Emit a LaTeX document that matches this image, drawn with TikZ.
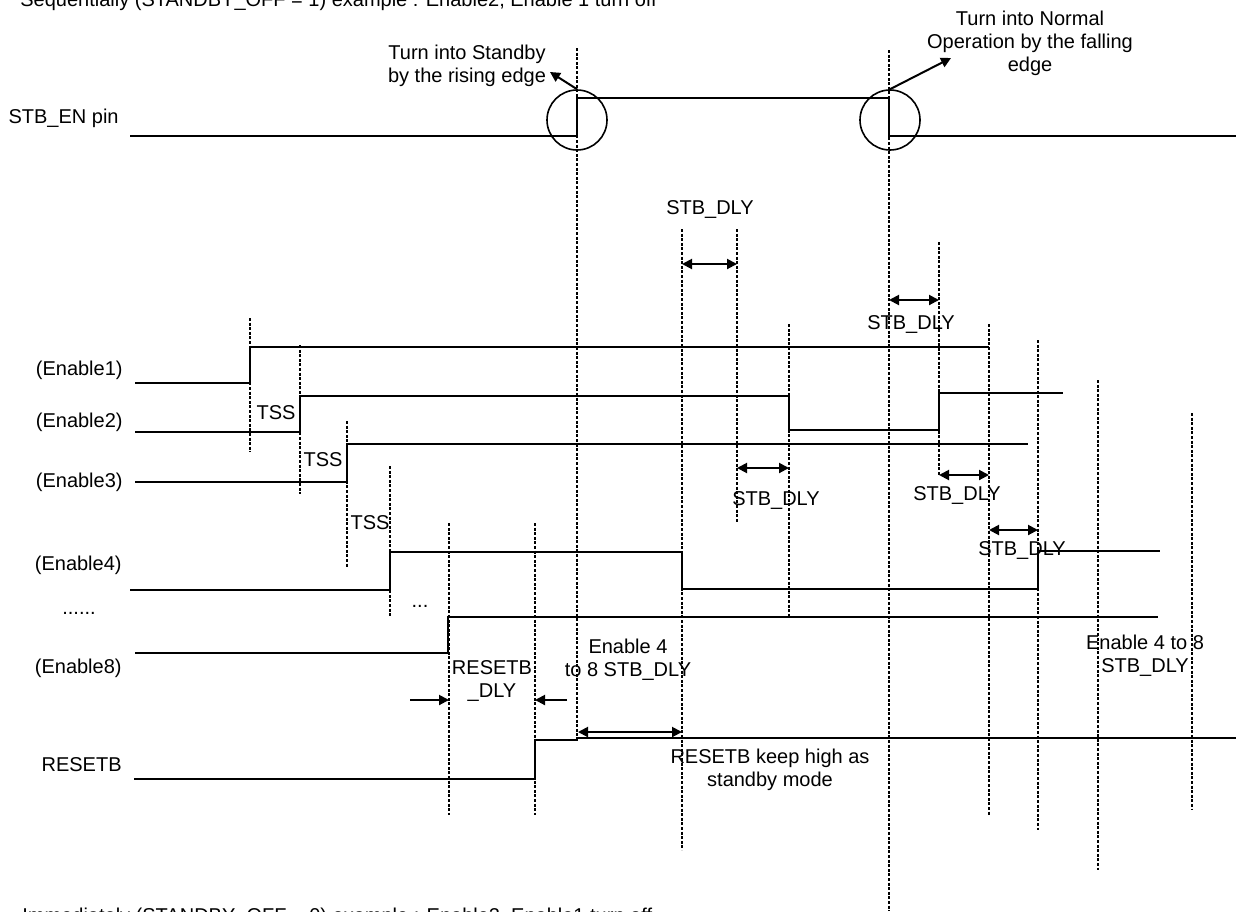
\documentclass[tikz,border=0pt]{standalone}
\usepackage{fontspec}
\setmainfont{Liberation Sans}
\usetikzlibrary{arrows.meta}
\begin{document}
\begin{tikzpicture}[x=0.5pt,y=-0.5pt,
  sig/.style={line width=1pt},
  dl/.style={line width=1.4pt, dash pattern=on 1.5pt off 0.8pt},
  txt/.style={font=\fontsize{10}{11.5}\selectfont, inner sep=0pt, align=center},
  lbl/.style={txt, anchor=east},
  arr/.style={line width=1pt, -{Triangle[length=5pt,width=5pt]}},
  darr/.style={line width=1pt, {Triangle[length=5pt,width=5pt]}-{Triangle[length=5pt,width=5pt]}},
  ring/.style={draw, circle, minimum size=30pt, line width=0.8pt, inner sep=0pt}]
\clip (0,0) rectangle (1236,911);
\fill[white] (0,0) rectangle (1236,911);

% dashed time markers
\foreach \n/\x/\a/\b in {d1/250/318/452, d2/300/345/494, d3/347/421/567, d4/390/466/617,
  d5/449/523/815, d6/535/523/815, d7/577/48/740, d8/682/229/850, d9/737/229/523,
  d10/789/324/617, d11/889/50/911, d12/939/242/475, d13/989/324/815, d14/1038/340/830,
  d15/1098/380/870, d16/1192/413/810}{
  \coordinate (\n t) at (\x,\a);
  \coordinate (\n b) at (\x,\b);
  \draw[dl] (\n t) -- (\n b);
}

% waveforms
\draw[sig] (130,136) -- (577,136) -- (577,98) -- (889,98) -- (889,136) -- (1236,136);
\draw[sig] (135,383) -- (250,383) -- (250,347) -- (989,347);
\draw[sig] (135,432) -- (300,432) -- (300,396) -- (789,396) -- (789,430) -- (939,430) -- (939,393) -- (1063,393);
\draw[sig] (135,482) -- (347,482) -- (347,444) -- (1028,444);
\draw[sig] (130,590) -- (390,590) -- (390,552) -- (682,552) -- (682,589) -- (1038,589) -- (1038,551) -- (1160,551);
\draw[sig] (135,653) -- (448,653) -- (448,617) -- (1158,617);
\draw[sig] (134,779) -- (535,779) -- (535,740) -- (577,740) -- (577,738) -- (1236,738);

% circles and callouts
\node[ring] (c1) at (577,120) {};
\node[ring] (c2) at (890,120) {};
\node[txt] (tstb) at (467,66) {Turn into Standby\\by the rising edge};
\node[txt] (tnorm) at (1030,43) {Turn into Normal\\Operation by the falling\\edge};
\coordinate (h1) at (550,72);
\coordinate (h2) at (951,58);
\draw[arr] (c1.north) -- (h1);
\draw[arr] (c2.north) -- (h2);

% signal labels
\node[lbl] (lstb) at (119,118) {STB\_EN pin};
\node[lbl] (le1) at (123,370) {(Enable1)};
\node[lbl] (le2) at (123,422) {(Enable2)};
\node[lbl] (le3) at (123,482) {(Enable3)};
\node[lbl] (le4) at (122,565) {(Enable4)};
\node[txt, anchor=base] (ldots) at (79,614) {......};
\node[lbl] (le8) at (122,668) {(Enable8)};
\node[lbl] (lrst) at (122,765) {RESETB};
\node[txt, anchor=base] (mdots) at (420,607) {...};

% TSS
\node[txt] (tss1) at (276,413) {TSS};
\node[txt] (tss2) at (323,460) {TSS};
\node[txt] (tss3) at (370,523) {TSS};

% STB_DLY arrows
\coordinate (a1l) at (682,264); \coordinate (a1r) at (737,264);
\coordinate (a2l) at (889,300); \coordinate (a2r) at (939,300);
\coordinate (a3l) at (737,468); \coordinate (a3r) at (789,468);
\coordinate (a4l) at (939,475); \coordinate (a4r) at (989,475);
\coordinate (a5l) at (989,530); \coordinate (a5r) at (1038,530);
\draw[darr] (a1l) -- (a1r);
\draw[darr] (a2l) -- (a2r);
\draw[darr] (a3l) -- (a3r);
\draw[darr] (a4l) -- (a4r);
\draw[darr] (a5l) -- (a5r);
\node[txt] (s1) at (710,209) {STB\_DLY};
\node[txt] (s2) at (911,324) {STB\_DLY};
\node[txt] (s3) at (776,500) {STB\_DLY};
\node[txt] (s4) at (957,495) {STB\_DLY};
\node[txt] (s5) at (1022,550) {STB\_DLY};

% RESETB_DLY
\node[txt] (rdly) at (492,681) {RESETB\\\_DLY};
\coordinate (r1s) at (410,700); \coordinate (r1e) at (449,700);
\coordinate (r2s) at (567,700); \coordinate (r2e) at (535,700);
\draw[arr] (r1s) -- (r1e);
\draw[arr] (r2s) -- (r2e);

% Enable 4 to 8
\node[txt] (e48a) at (628,660) {Enable 4\\to 8 STB\_DLY};
\coordinate (e48l) at (578,732); \coordinate (e48r) at (682,732);
\draw[darr] (e48l) -- (e48r);
\node[txt] (keep) at (770,770) {RESETB keep high as\\standby mode};
\node[txt] (e48b) at (1145,656) {Enable 4 to 8\\STB\_DLY};

% headings (partly cut off, as in the reference)
\node[txt, anchor=base west] (top) at (20,6) {Sequentially (STANDBY\_OFF = 1) example : Enable2, Enable 1 turn off};
\node[txt, anchor=base west] (bot) at (22,922) {Immediately (STANDBY\_OFF = 0) example : Enable2, Enable1 turn off};
\end{tikzpicture}
\end{document}
